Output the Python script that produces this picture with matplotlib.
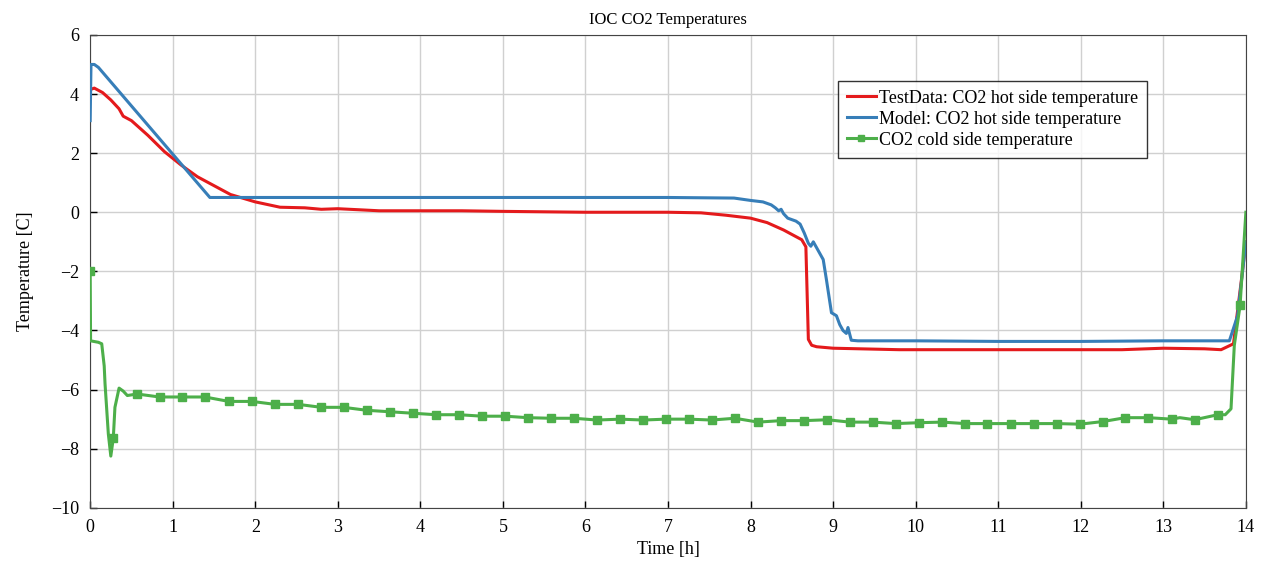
import numpy as np
import matplotlib.pyplot as plt

plt.rcParams['font.family'] = ['Liberation Serif', 'DejaVu Serif']

# TestData: CO2 hot side temperature
hot_test_t = [0.0, 0.05, 0.15, 0.25, 0.35, 0.4, 0.5, 0.7, 0.9, 1.1, 1.3, 1.5, 1.7,
              2.0, 2.3, 2.6, 2.8, 3.0, 3.5, 4.0, 4.5, 5.0, 6.0, 7.0, 7.4, 7.7,
              8.0, 8.2, 8.4, 8.62, 8.67, 8.7, 8.74, 8.8, 9.0, 9.8, 10.5, 11.0,
              12.0, 12.5, 13.0, 13.5, 13.7, 13.85, 13.95, 14.0]
hot_test_v = [4.15, 4.2, 4.05, 3.8, 3.5, 3.25, 3.1, 2.6, 2.05, 1.6, 1.2, 0.9, 0.6,
              0.35, 0.17, 0.15, 0.1, 0.12, 0.05, 0.05, 0.05, 0.03, 0.0, 0.0, -0.02, -0.1,
              -0.2, -0.35, -0.6, -0.93, -1.17, -4.3, -4.5, -4.55, -4.6, -4.65, -4.65, -4.65,
              -4.65, -4.65, -4.6, -4.62, -4.65, -4.45, -2.2, -1.0]

# Model: CO2 hot side temperature
hot_model_t = [0.0, 0.01, 0.05, 0.1, 1.45, 3.0, 5.0, 7.0, 7.8, 8.0, 8.15, 8.2, 8.25,
               8.3, 8.34, 8.37, 8.4, 8.45, 8.55, 8.6, 8.65, 8.7, 8.73, 8.76, 8.8, 8.88,
               8.92, 8.98, 9.04, 9.08, 9.12, 9.16, 9.18, 9.22, 9.3, 10.0, 11.0, 12.0,
               13.0, 13.8, 13.9, 14.0]
hot_model_v = [3.1, 5.0, 5.0, 4.9, 0.5, 0.5, 0.5, 0.5, 0.48, 0.4, 0.35, 0.3, 0.25,
               0.15, 0.05, 0.1, -0.05, -0.2, -0.3, -0.4, -0.7, -1.05, -1.15, -1.0, -1.2, -1.6,
               -2.3, -3.4, -3.5, -3.8, -4.0, -4.1, -3.9, -4.33, -4.35, -4.35, -4.37, -4.37,
               -4.35, -4.35, -3.5, -1.0]

# CO2 cold side temperature
cold_t = [0.0, 0.005, 0.1, 0.14, 0.17, 0.18, 0.22, 0.25, 0.28, 0.3, 0.35, 0.4, 0.45,
          0.57, 0.84, 1.11, 1.39, 1.68, 1.96, 2.24, 2.52, 2.8, 3.07, 3.35, 3.63, 3.91,
          4.19, 4.47, 4.75, 5.03, 5.3, 5.58, 5.86, 6.14, 6.42, 6.7, 6.97, 7.25, 7.53,
          7.81, 8.09, 8.37, 8.65, 8.93, 9.2, 9.48, 9.76, 10.04, 10.32, 10.6, 10.87,
          11.15, 11.43, 11.71, 11.99, 12.27, 12.54, 12.82, 13.1, 13.2, 13.38, 13.66,
          13.75, 13.82, 13.86, 13.93, 14.0]
cold_v = [-2.0, -4.35, -4.4, -4.45, -5.2, -5.8, -7.5, -8.25, -7.65, -6.6, -5.95, -6.05, -6.2,
          -6.15, -6.25, -6.25, -6.25, -6.4, -6.4, -6.5, -6.5, -6.6, -6.6, -6.7, -6.75, -6.8,
          -6.85, -6.85, -6.9, -6.9, -6.95, -6.97, -6.97, -7.03, -7.0, -7.03, -7.0, -7.0, -7.03,
          -6.97, -7.1, -7.05, -7.05, -7.02, -7.1, -7.1, -7.15, -7.12, -7.1, -7.15, -7.15,
          -7.15, -7.15, -7.15, -7.17, -7.08, -6.95, -6.95, -7.0, -6.95, -7.02, -6.85,
          -6.85, -6.65, -4.5, -3.15, 0.0]
cold_marks = [0, 8] + list(range(13, 59)) + [60, 61, 65]

fig, ax = plt.subplots(figsize=(12.7, 5.63), dpi=100)
fig.subplots_adjust(left=0.071, right=0.981, top=0.938, bottom=0.098)

ax.plot(hot_test_t, hot_test_v, color='#e41a1c', lw=2.2,
        label='TestData: CO2 hot side temperature', zorder=3)
ax.plot(hot_model_t, hot_model_v, color='#377eb8', lw=2.2,
        label='Model: CO2 hot side temperature', zorder=3)
ax.plot(cold_t, cold_v, color='#4daf4a', lw=2.2, marker='s', markersize=6,
        markevery=cold_marks, label='CO2 cold side temperature', zorder=3)

ax.set_xlim(0, 14)
ax.set_ylim(-10, 6)
ax.set_xticks(np.arange(0, 15, 1))
ax.set_yticks(np.arange(-10, 7, 2))
ax.grid(True, color='#d0d0d0', lw=1.0)
ax.tick_params(direction='in', labelsize=13, length=5, width=1)
ax.tick_params(axis='x', pad=8)
ax.tick_params(axis='y', pad=8)
for s in ax.spines.values():
    s.set_color('#444444')

ax.set_title('IOC CO2 Temperatures', fontsize=12, pad=8)
ax.set_xlabel('Time [h]', fontsize=13, labelpad=4)
ax.set_ylabel('Temperature [C]', fontsize=13, labelpad=12)

leg = ax.legend(loc='upper left', bbox_to_anchor=(0.647, 0.903), borderaxespad=0,
                fontsize=13, frameon=True, fancybox=False, handlelength=1.6,
                handletextpad=0.15, borderpad=0.5, labelspacing=0.22, markerscale=0.7)
leg.get_frame().set_edgecolor('black')
leg.get_frame().set_linewidth(1.0)

plt.savefig('out.png')
